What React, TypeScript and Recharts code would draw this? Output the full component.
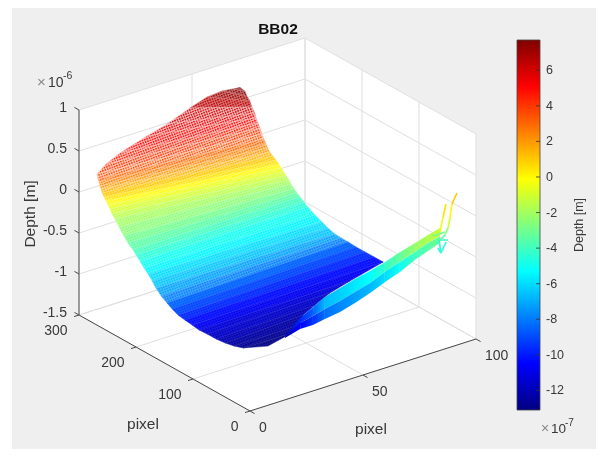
import React from "react";
import { ComposedChart, Area, Line, Scatter, XAxis, YAxis, ReferenceArea } from "recharts";

// Depth values are in units of 1e-7 m, pixel values are the plot's own axes.
const depthLevels = [7.5,7,6.5,6,5.5,5,4.5,4,3.5,3,2.5,2,1.5,1,0.5,0,-0.5,-1,-1.5,-2,-2.5,-3,-3.5,-4,-4.5,-5,-5.5,-6,-6.5,-7.2,-7.9,-8.5,-9.1,-9.7,-10.3,-10.8,-11.3,-11.6,-12,-12.4,-12.7,-13];
const leftPixelX = [64.1,62.3,57.1,48.8,36.4,26.7,12.6,5.2,-0.3,-0.5,0.4,0.7,1.5,1.9,2.5,3.1,3.7,4.3,4.4,4.8,4,2.9,2.6,2.6,3,3.1,2.8,3,2.7,3.1,3.5,4.1,5,6.1,8,9.6,11.1,12.6,14.3,16.5,18.7,21.5];
const leftPixelY = [285.5,296.1,301.8,298.9,289.7,286.7,278.2,273.3,267.3,264.8,266.4,266,267.4,267,265.9,264.9,263.8,262.7,259.6,256,245.7,232.7,224.4,215.4,211.8,205.5,197.1,190.8,182.4,177.4,169.7,161.8,156.4,150.5,145.9,139.6,133.4,125.2,116.1,108.9,102.2,97.3];
const rightPixelX = [66.7,66.8,67.2,66.8,66.7,66.6,66.7,66.8,66.4,66.5,66.6,67.2,67.8,68.7,69.6,70.5,71.2,72,72.7,73.6,74.2,74.6,75.5,76.4,77,77.7,77.7,78.3,79,80.8,83.5,85.9,88.1,90.6,93.1,95.2,78.3,67.9,59.3,52.6,47.8,42.8];
const rightPixelY = [273.3,270.2,266.5,261.5,255.8,253.4,250.3,247.2,242.2,239.1,236,235,233.9,232.2,230.5,228.8,227.7,226,224.9,223.2,222.2,218.5,216.8,215,210.7,206.4,194.1,184,176.4,171.4,171,168.5,163.2,157.4,151.4,143.9,135.2,128.9,121,115.1,102.1,96.1];
const topCap = [67.3, 284.5, 7.5];
const bottomCap = [29.5, 85.5, -13];

const ribbonUpperX = [35.2,38.2,41.3,41.4,48.1,54.8,61,65.7,70.8,75.4,81,85.8];
const ribbonUpperY = [78.3,63.7,52.9,32.6,32.7,33,31.3,23.4,17.3,9.4,8.9,7.1];
const ribbonUpperDepth = [-12,-9.5,-8,-6,-5.5,-5,-4.5,-3.5,-2.5,-1.5,-1,-0.5];
const ribbonMidX = [34.7,37.8,40.8,41.5,47.7,54.4,61.1,66.7,71.9,77.1,83.2,88.1];
const ribbonMidY = [76.3,62,51.4,33.2,31.3,31.6,31.8,28,22,16,17.6,15.7];
const ribbonMidDepth = [-12,-10,-9,-7.5,-7,-6.5,-6,-5,-4,-3,-2.5,-2];
const ribbonLowerX = [34.2,38.9,40.4,42.7,48.4,55.1,62.3,70,75.1,81.2,87.4,92.7];
const ribbonLowerY = [74.3,66.3,49.8,37.8,33.9,34.2,36.4,40.7,34.7,32.8,34.3,34.5];
const ribbonLowerDepth = [-12,-11,-10,-9,-8.5,-8,-7.5,-7,-6,-5,-4.5,-4];

const tailLines: number[][][] = [
  [[85.9,7.3,-1],[90.2,18.9,0],[93.4,26.6,1]],
  [[92.3,18.4,-1.5],[93.7,20.7,-0.5],[97.2,31,0.5],[100,33.4,1.5]],
  [[90.2,36.5,-3],[95.6,36.9,-3]],
  [[94,41.1,-4],[96.5,35.3,-4]],
  [[91.9,36.3,-4],[96.1,39.1,-3.5],[92.3,18.4,-1.5]],
  [[91.7,33.9,-4.5],[92.1,30.2,-5],[95,32.6,-4]],
  [[92.1,30.2,-5],[94,41.1,-4]],
];

const xLim = [0, 100];
const yLim = [0, 300];
const zLim = [-15, 10];
const xTicks = [0, 50, 100];
const yTicks = [0, 100, 200, 300];
const zTicks = [10, 5, 0, -5, -10, -15];
const zTickLabels = ["1", "0.5", "0", "-0.5", "-1", "-1.5"];
const colorMin = -13.1;
const colorMax = 7.7;
const colorTicks = [-12, -10, -8, -6, -4, -2, 0, 2, 4, 6];
const gradientStops = [0, 0.125, 0.375, 0.625, 0.875, 1];

type P = { x: number; y: number };
const project = (x: number, y: number, d: number): P => ({
  x: 250 + 2.26 * x - 0.57 * y,
  y: 288 - 8.2 * d - 0.72 * x - 0.32 * y,
});

const clamp = (v: number) => Math.max(0, Math.min(1, v));
const jetRgb = (t: number) => [
  clamp(1.5 - Math.abs(4 * t - 3)),
  clamp(1.5 - Math.abs(4 * t - 2)),
  clamp(1.5 - Math.abs(4 * t - 1)),
];
const toCss = (c: number[]) => `rgb(${c.map((v) => Math.round(v * 255)).join(",")})`;
const depthT = (d: number) => clamp((d - colorMin) / (colorMax - colorMin));
const jet = (d: number) => toCss(jetRgb(depthT(d)));
const mixWhite = (d: number, w: number) => toCss(jetRgb(depthT(d)).map((v) => v + (1 - v) * w));

// Turn a convex polygon into the lower and upper edge an Area can draw.
const polyBand = (vs: P[]) => {
  const xs = Array.from(new Set(vs.map((v) => v.x))).sort((a, b) => a - b);
  return xs.map((X) => {
    const hits: number[] = [];
    vs.forEach((a, i) => {
      const b = vs[(i + 1) % vs.length];
      if (X < Math.min(a.x, b.x) || X > Math.max(a.x, b.x)) return;
      if (a.x === b.x) hits.push(a.y, b.y);
      else hits.push(a.y + ((X - a.x) / (b.x - a.x)) * (b.y - a.y));
    });
    return { x: X, range: [Math.min(...hits), Math.max(...hits)] };
  });
};

const whiteShare = (d: number) => (d > 6 ? 0.45 : d > 3 ? 0.72 : d > 1 ? 0.55 : d > -3 ? 0.36 : d > -8 ? 0.28 : 0.1);

type Face = { id: string; data: any[]; fill: string; stroke: string };
const faces: Face[] = [];
const patterns: { id: string; base: string; dot: string }[] = [];
depthLevels.forEach((d, i) => {
  const a = project(leftPixelX[i], leftPixelY[i], d);
  const b = project(rightPixelX[i], rightPixelY[i], d);
  let vs: P[];
  if (i + 1 < depthLevels.length) {
    const n = depthLevels[i + 1];
    vs = [a, b, project(rightPixelX[i + 1], rightPixelY[i + 1], n), project(leftPixelX[i + 1], leftPixelY[i + 1], n)];
  } else {
    vs = [a, b, project(bottomCap[0], bottomCap[1], bottomCap[2])];
  }
  const id = `mesh${i}`;
  const base = mixWhite(d, whiteShare(d));
  patterns.push({ id, base, dot: jet(d) });
  faces.push({ id: `band${i}`, data: polyBand(vs), fill: `url(#${id})`, stroke: base });
});
const topFace = polyBand([
  project(topCap[0], topCap[1], topCap[2]),
  project(rightPixelX[0], rightPixelY[0], depthLevels[0]),
  project(leftPixelX[0], leftPixelY[0], depthLevels[0]),
]);

const ribbonFaces: Face[] = [];
const ribbonGradients: { id: string; from: string; to: string }[] = [];
const ribbonRows = [
  [ribbonUpperX, ribbonUpperY, ribbonUpperDepth, ribbonMidX, ribbonMidY, ribbonMidDepth],
  [ribbonMidX, ribbonMidY, ribbonMidDepth, ribbonLowerX, ribbonLowerY, ribbonLowerDepth],
];
ribbonRows.forEach(([ax, ay, ad, bx, by, bd], r) => {
  for (let i = 0; i + 1 < ax.length; i++) {
    const vs = [
      project(ax[i], ay[i], ad[i]),
      project(ax[i + 1], ay[i + 1], ad[i + 1]),
      project(bx[i + 1], by[i + 1], bd[i + 1]),
      project(bx[i], by[i], bd[i]),
    ];
    const id = `ribfill${r}-${i}`;
    ribbonGradients.push({ id, from: jet((ad[i] + bd[i]) / 2), to: jet((ad[i + 1] + bd[i + 1]) / 2) });
    ribbonFaces.push({ id: `rib${r}-${i}`, data: polyBand(vs), fill: `url(#${id})`, stroke: "none" });
  }
});

const [x0, x1] = xLim;
const [y0, y1] = yLim;
const [z0, z1] = zLim;
const wallFaces = [
  [project(x0, y1, z1), project(x1, y1, z1), project(x1, y1, z0), project(x0, y1, z0)],
  [project(x1, y1, z1), project(x1, y0, z1), project(x1, y0, z0), project(x1, y1, z0)],
  [project(x0, y0, z0), project(x1, y0, z0), project(x1, y1, z0), project(x0, y1, z0)],
].map(polyBand);

const gridLines: P[][] = [
  ...zTicks.map((z) => [project(x0, y1, z), project(x1, y1, z), project(x1, y0, z)]),
  ...xTicks.map((x) => [project(x, y0, z0), project(x, y1, z0), project(x, y1, z1)]),
  ...yTicks.map((y) => [project(x0, y, z0), project(x1, y, z0), project(x1, y, z1)]),
];
const axisLines: P[][] = [
  [project(x0, y1, z1), project(x0, y1, z0), project(x0, y0, z0), project(x1, y0, z0)],
  ...zTicks.map((z) => [project(x0, y1, z), project(x0, y1 + 8, z)]),
  ...yTicks.map((y) => [project(x0, y, z0), project(x0 - 2.2, y, z0)]),
  ...xTicks.map((x) => [project(x, y0, z0), project(x, y0 - 8, z0)]),
];

const tailSegments: { data: P[]; color: string }[] = [];
tailLines.forEach((line) => {
  for (let i = 0; i + 1 < line.length; i++) {
    tailSegments.push({
      data: [project(line[i][0], line[i][1], line[i][2]), project(line[i + 1][0], line[i + 1][1], line[i + 1][2])],
      color: jet((line[i][2] + line[i + 1][2]) / 2),
    });
  }
});

const FONT = "'Liberation Sans', Arial, sans-serif";
const INK = "#383838";

const zLabelData = zTicks.map((z, i) => ({ ...project(x0, y1, z), label: zTickLabels[i] }));
const yLabelData = yTicks.map((y) => ({ ...project(x0, y, z0), label: String(y) }));
const xLabelData = xTicks.map((x) => ({ ...project(x, y0, z0), label: String(x) }));

const tickText = (dx: number, dy: number, anchor: string) => (p: any) => (
  <text x={p.cx + dx} y={p.cy + dy} textAnchor={anchor} dominantBaseline="central" fontFamily={FONT} fontSize={14} fill={INK}>
    {p.payload.label}
  </text>
);

const plain = { isAnimationActive: false, legendType: "none" as const };
const layer: React.CSSProperties = { position: "absolute", left: 0, top: 0 };
const noMargin = { top: 0, right: 0, bottom: 0, left: 0 };

const Backdrop = () => (
  <ComposedChart width={604} height={457} margin={noMargin} style={layer}>
    <XAxis dataKey="x" type="number" domain={[0, 604]} hide allowDataOverflow />
    <YAxis dataKey="y" type="number" domain={[0, 457]} reversed hide allowDataOverflow />
    {wallFaces.map((d, i) => (
      <Area key={`wall${i}`} data={d} dataKey="range" fill="#fff" fillOpacity={1} stroke="#fff" strokeWidth={0.5} dot={false} activeDot={false} {...plain} />
    ))}
    {gridLines.map((d, i) => (
      <Line key={`grid${i}`} data={d} dataKey="y" stroke="#dfdfdf" strokeWidth={1} dot={false} activeDot={false} {...plain} />
    ))}
    {axisLines.map((d, i) => (
      <Line key={`axis${i}`} data={d} dataKey="y" stroke="#4a4a4a" strokeWidth={1} dot={false} activeDot={false} {...plain} />
    ))}
    <Scatter data={zLabelData} dataKey="y" shape={tickText(-12, -3.5, "end")} {...plain} />
    <Scatter data={yLabelData} dataKey="y" shape={tickText(-11.5, 14.5, "end")} {...plain} />
    <Scatter data={xLabelData} dataKey="y" shape={tickText(9, 16, "start")} {...plain} />
    <text x={278} y={34} textAnchor="middle" fontFamily={FONT} fontSize={15.5} fontWeight="bold" fill="#111">BB02</text>
    <text x={29} y={214} transform="rotate(-90 29 214)" textAnchor="middle" dominantBaseline="central" fontFamily={FONT} fontSize={15.5} fill={INK}>Depth [m]</text>
    <text x={143} y={423} textAnchor="middle" dominantBaseline="central" fontFamily={FONT} fontSize={15.5} fill={INK}>pixel</text>
    <text x={371} y={428} textAnchor="middle" dominantBaseline="central" fontFamily={FONT} fontSize={15.5} fill={INK}>pixel</text>
    <text x={37} y={87} fontFamily={FONT} fontSize={15} fill="#888">×</text>
    <text x={48} y={87} fontFamily={FONT} fontSize={14} fill={INK}>10</text>
    <text x={63} y={79} fontFamily={FONT} fontSize={10.5} fill={INK}>-6</text>
    <text x={541} y={433} fontFamily={FONT} fontSize={14} fill="#888">×</text>
    <text x={551} y={433} fontFamily={FONT} fontSize={13.5} fill={INK}>10</text>
    <text x={565} y={426} fontFamily={FONT} fontSize={10} fill={INK}>-7</text>
    <text x={579} y={225} transform="rotate(-90 579 225)" textAnchor="middle" dominantBaseline="central" fontFamily={FONT} fontSize={12.5} fill={INK}>Depth [m]</text>
  </ComposedChart>
);

const Surface = () => (
  <ComposedChart width={604} height={457} margin={noMargin} style={layer}>
    <defs>
      {patterns.map((m) => (
        <pattern key={m.id} id={m.id} patternUnits="userSpaceOnUse" width={2.5} height={2.5} patternTransform="rotate(-20)">
          <rect width={2.5} height={2.5} fill={m.base} />
          <rect width={1.5} height={1.5} fill={m.dot} />
        </pattern>
      ))}
      {ribbonGradients.map((g) => (
        <linearGradient key={g.id} id={g.id} x1="0" y1="0" x2="1" y2="0">
          <stop offset="0" stopColor={g.from} />
          <stop offset="1" stopColor={g.to} />
        </linearGradient>
      ))}
    </defs>
    <XAxis dataKey="x" type="number" domain={[0, 604]} hide allowDataOverflow />
    <YAxis dataKey="y" type="number" domain={[0, 457]} reversed hide allowDataOverflow />
    <Area data={topFace} dataKey="range" fill={mixWhite(7.5, 0.3)} fillOpacity={1} stroke="none" dot={false} activeDot={false} {...plain} />
    {faces.map((f) => (
      <Area key={f.id} data={f.data} dataKey="range" fill={f.fill} fillOpacity={1} stroke={f.stroke} strokeWidth={0.5} dot={false} activeDot={false} {...plain} />
    ))}
    {ribbonFaces.map((f) => (
      <Area key={f.id} data={f.data} dataKey="range" fill={f.fill} fillOpacity={1} stroke={f.stroke} dot={false} activeDot={false} {...plain} />
    ))}
    {tailSegments.map((s, i) => (
      <Line key={`tail${i}`} data={s.data} dataKey="y" stroke={s.color} strokeWidth={1.6} dot={false} activeDot={false} {...plain} />
    ))}
  </ComposedChart>
);

const colorTick = (p: any) => (
  <g>
    <line x1={p.x - 4} x2={p.x} y1={p.y} y2={p.y} stroke="#333" strokeWidth={0.8} />
    <text x={p.x + 6} y={p.y} dominantBaseline="central" fontFamily={FONT} fontSize={12.5} fill={INK}>
      {p.payload.value}
    </text>
  </g>
);

const ColorBar = () => (
  <ComposedChart
    width={604}
    height={457}
    margin={{ top: 40, right: 24, bottom: 47, left: 517 }}
    data={[{ x: 0 }, { x: 1 }]}
    style={layer}
  >
    <defs>
      <linearGradient id="jetBar" x1="0" y1="1" x2="0" y2="0">
        {gradientStops.map((t) => (
          <stop key={t} offset={t} stopColor={toCss(jetRgb(t))} />
        ))}
      </linearGradient>
    </defs>
    <XAxis dataKey="x" type="number" domain={[0, 1]} hide />
    <YAxis
      orientation="right"
      width={40}
      type="number"
      domain={[colorMin, colorMax]}
      ticks={colorTicks}
      interval={0}
      allowDataOverflow
      axisLine={false}
      tickLine={false}
      tickSize={0}
      tickMargin={0}
      tick={colorTick}
    />
    <ReferenceArea x1={0} x2={1} y1={colorMin} y2={colorMax} fill="url(#jetBar)" fillOpacity={1} stroke="#444" strokeWidth={0.8} />
  </ComposedChart>
);

export default function App() {
  return (
    <div style={{ position: "relative", width: 604, height: 457, margin: -8, background: "#fff", overflow: "hidden", filter: "blur(0.4px)" }}>
      <div style={{ position: "absolute", left: 12, top: 6, right: 0, bottom: 0, background: "#efefef" }} />
      <Backdrop />
      <Surface />
      <ColorBar />
    </div>
  );
}
